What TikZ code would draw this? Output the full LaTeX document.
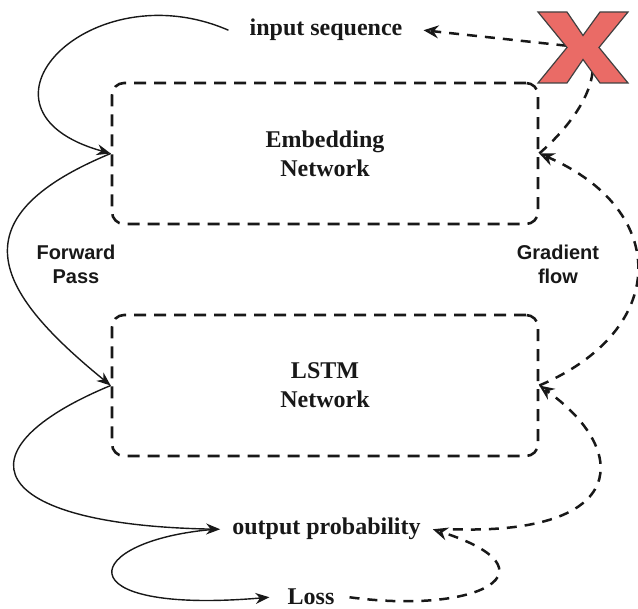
\documentclass[tikz,border=0pt]{standalone}
\usepackage{fontspec}
\setmainfont{Liberation Serif}
\newfontfamily\labelsans{Liberation Sans}
\usetikzlibrary{arrows.meta}
\definecolor{ink}{RGB}{24,24,24}
\definecolor{crossfill}{RGB}{234,107,102}
\begin{document}
\begin{tikzpicture}[x=1pt,y=-1pt,
  netbox/.style={draw=ink, line width=2.6pt, dash pattern=on 12pt off 8pt,
    rounded corners=12pt, minimum width=426pt, minimum height=141pt,
    align=center, text=ink, font=\fontsize{24}{29}\selectfont\bfseries},
  lbl/.style={text=ink, inner sep=0pt, font=\fontsize{24}{29}\selectfont\bfseries},
  sidelbl/.style={text=ink, align=center, inner sep=0pt,
    font=\labelsans\fontsize{20}{24}\selectfont\bfseries},
  fwdarrow/.style={draw=ink, line width=1.4pt,
    -{Stealth[length=14pt,width=11pt]}},
  backarrow/.style={draw=ink, line width=2.5pt, dash pattern=on 10pt off 8pt,
    -{Stealth[open,length=15pt,width=13pt,inset=5pt,line width=2.3pt]}}]
\useasboundingbox (0,0) rectangle (638,609);

% networks
\node[netbox] (emb)  at (325,153.5) {Embedding\\Network};
\node[netbox] (lstm) at (325,385.5) {LSTM\\Network};

% data labels
\node[lbl, anchor=base] (inp)  at (326,36)    {input sequence};
\node[lbl, anchor=base] (outp) at (326.5,535) {output probability};
\node[lbl, anchor=base] (loss) at (311,605)   {Loss};

% side captions
\node[sidelbl] (fp) at (76,264)  {Forward\\Pass};
\node[sidelbl] (gf) at (558,264) {Gradient\\flow};

% forward pass
\draw[fwdarrow] ([xshift=-21pt]inp.west) .. controls (90,-30) and (-45,110) .. (emb.west);
\draw[fwdarrow] (emb.west) .. controls (-50,220) and (0,295) .. (lstm.west);
\draw[fwdarrow] (lstm.west) .. controls (-45,450) and (-15,525) .. ([xshift=-12pt]outp.west);
\draw[fwdarrow] ([xshift=-17pt]outp.west) .. controls (80,540) and (60,615) .. ([xshift=-18pt]loss.west);

% gradient flow
\coordinate (xmark) at (583,47.5);
\draw[backarrow] ([xshift=15pt]loss.east) .. controls (480,615) and (560,570) .. ([xshift=12pt]outp.east);
\draw[backarrow] ([xshift=32pt]outp.east) .. controls (630,535) and (630,450) .. (lstm.east);
\draw[backarrow] (lstm.east) .. controls (670,330) and (670,210) .. (emb.east);
\draw[backarrow] (emb.east) .. controls (600,100) and (600,55) .. (xmark) -- ([xshift=21pt]inp.east);

% blocked flow mark
\filldraw[fill=crossfill, draw=black!75, line width=1.2pt, line join=miter, shift={(xmark)}]
  (-45,-35.5) -- (-16,-35.5) -- (0,-12) -- (17,-35.5) -- (45,-35.5) -- (16,0)
  -- (45,35.5) -- (17,35.5) -- (0,12) -- (-16,35.5) -- (-45,35.5) -- (-16,0) -- cycle;
\end{tikzpicture}
\end{document}
